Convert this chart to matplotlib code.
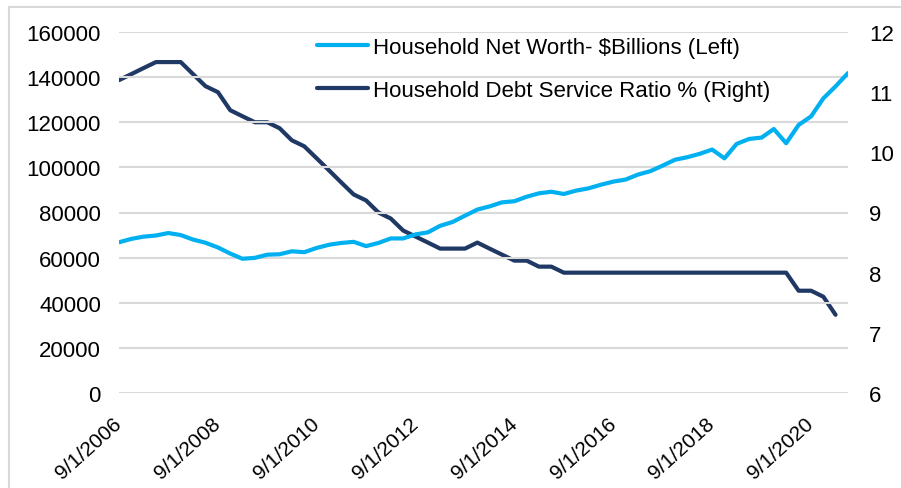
import matplotlib
matplotlib.use("Agg")
from matplotlib import pyplot as plt
from matplotlib.patches import Rectangle
import pandas as pd

# quarterly data, 9/1/2006 .. 6/1/2021
fechas = pd.date_range("2006-09-01", periods=60, freq="3MS")

net_worth = [66800, 68300, 69300, 69800, 70900, 70000, 68000, 66600, 64500, 61800,
             59500, 59900, 61300, 61500, 62800, 62400, 64300, 65700, 66500, 67000,
             65100, 66500, 68500, 68500, 70300, 71200, 74100, 75800, 78600, 81300,
             82700, 84500, 85000, 87000, 88500, 89200, 88200, 89700, 90700, 92300,
             93700, 94600, 96800, 98300, 100800, 103400, 104500, 106000, 107900, 104000,
             110400, 112600, 113200, 117000, 110700, 118800, 122600, 130600, 135900, 141800]

debt_ratio = [11.2, 11.3, 11.4, 11.5, 11.5, 11.5, 11.3, 11.1, 11.0, 10.7,
              10.6, 10.5, 10.5, 10.4, 10.2, 10.1, 9.9, 9.7, 9.5, 9.3,
              9.2, 9.0, 8.9, 8.7, 8.6, 8.5, 8.4, 8.4, 8.4, 8.5,
              8.4, 8.3, 8.2, 8.2, 8.1, 8.1, 8.0, 8.0, 8.0, 8.0,
              8.0, 8.0, 8.0, 8.0, 8.0, 8.0, 8.0, 8.0, 8.0, 8.0,
              8.0, 8.0, 8.0, 8.0, 8.0, 7.7, 7.7, 7.6, 7.3]

etiquetas = ["9/1/2006", "9/1/2008", "9/1/2010", "9/1/2012",
             "9/1/2014", "9/1/2016", "9/1/2018", "9/1/2020"]

azul_claro = "#00B0F0"
azul_oscuro = "#1F3864"
gris = "#D9D9D9"

plt.rcParams["font.family"] = ["Liberation Sans", "DejaVu Sans"]
fs = 16

W, H = 901, 489
fig = plt.figure(figsize=(W / 100, H / 100), dpi=100)
ax = fig.add_axes([119 / W, 1 - 394 / H, (848 - 119) / W, (394 - 33) / H])
ax2 = ax.twinx()

# borde del area del grafico
fig.patches.append(Rectangle((9 / W, -0.05), 1.2, 1.05 - 8 / H, transform=fig.transFigure,
                             fill=False, edgecolor=gris, linewidth=1.5))

l1, = ax.plot(fechas, net_worth, color=azul_claro, linewidth=3, solid_capstyle="round",
              label="Household Net Worth- $Billions (Left)", zorder=3)
l2, = ax2.plot(fechas[:len(debt_ratio)], debt_ratio, color=azul_oscuro, linewidth=3,
               solid_capstyle="round", label="Household Debt Service Ratio % (Right)")

ax.set_xlim(fechas[0], fechas[-1])
ax.set_ylim(0, 160000)
ax.set_yticks(range(0, 160001, 20000))
ax2.set_ylim(6, 12)
ax2.set_yticks(range(6, 13))

ax.set_xticks(pd.to_datetime(etiquetas, format="%m/%d/%Y"))
ax.set_xticklabels(etiquetas, rotation=42, ha="right", va="center",
                   rotation_mode="anchor", fontsize=15)

ax.grid(axis="y", color=gris, linewidth=1.5)
ax.set_axisbelow(True)
for a in (ax, ax2):
        for s in a.spines.values():
                s.set_visible(False)
        a.tick_params(length=0, labelsize=fs)
ax.tick_params(axis="x", labelsize=15)
ax.tick_params(axis="y", pad=13)
ax2.tick_params(axis="y", pad=15)
ax.tick_params(axis="x", pad=20)

ax.set_zorder(ax2.get_zorder() + 1)
ax.patch.set_visible(False)

fig.legend(handles=[l1, l2], loc="upper left", bbox_to_anchor=(317 / W, 1 - 38 / H),
           frameon=False, fontsize=fs, handlelength=2.3, handletextpad=0.2,
           labelspacing=1.0, borderpad=0, borderaxespad=0)

fig.savefig("out.png", dpi=100)
